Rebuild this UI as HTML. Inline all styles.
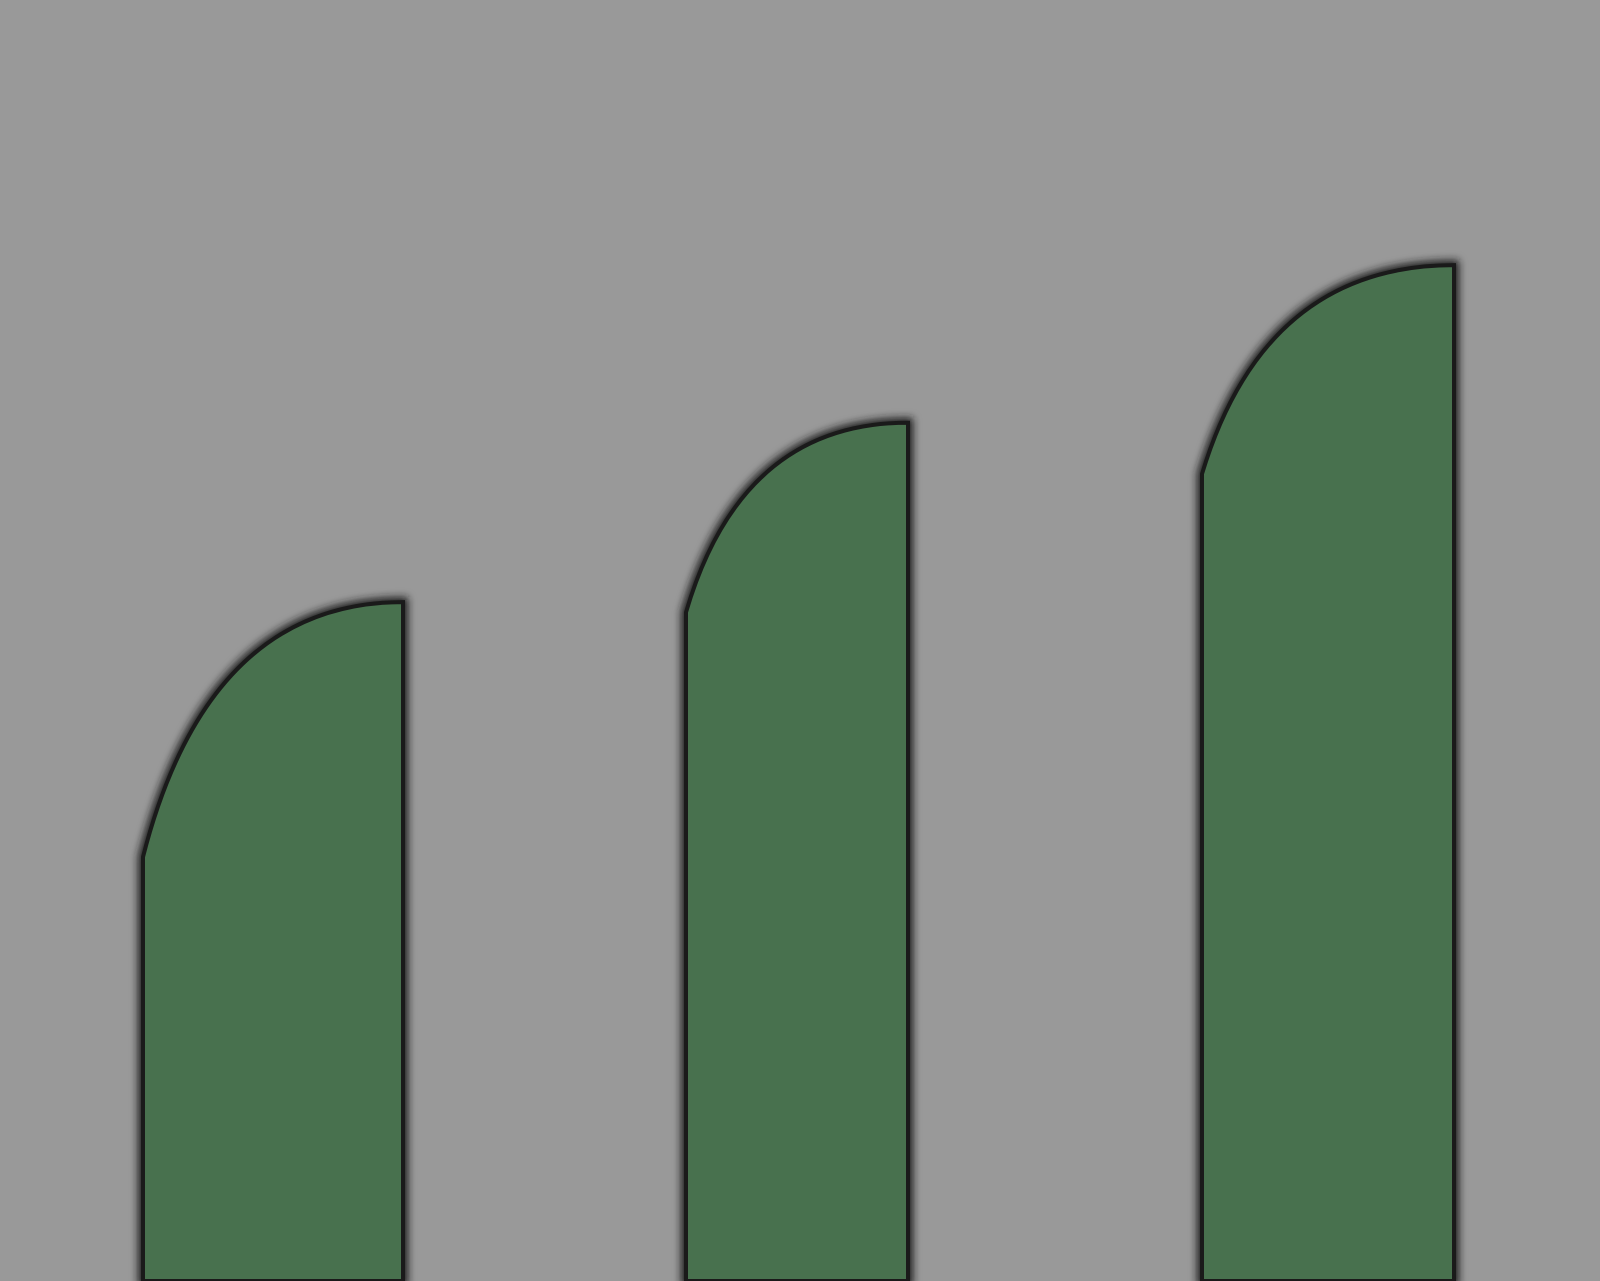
<!DOCTYPE html>
<html>
<head>
<meta charset="utf-8">
<style>
html,body{margin:0;padding:0;background:#999999;}
svg{display:block;}
</style>
</head>
<body>
<svg id="chart" width="1600" height="1281" viewBox="0 0 1600 1281" xmlns="http://www.w3.org/2000/svg">
<rect x="0" y="0" width="1600" height="1281" fill="#999999"/>
<defs>
<filter id="sh" x="-10%" y="-10%" width="120%" height="120%">
<feGaussianBlur stdDeviation="4"/>
</filter>
</defs>
<g id="bars"></g>
</svg>
<script>
const categories = ["bar-1", "bar-2", "bar-3"];
const topValues = [530, 670, 793];
const shoulderValues = [331, 522, 630];
const H = 1281;
function y(v){ return H - v * 1.281; }
const slots = [[143, 403], [686, 908], [1202, 1454]];
const g = document.getElementById('bars');
const NS = 'http://www.w3.org/2000/svg';
categories.forEach((c, i) => {
  const l = slots[i][0], r = slots[i][1], w = r - l;
  const yt = y(topValues[i]), ys = y(shoulderValues[i]);
  const d = `M${l},${H} L${l},${ys} Q${l + w*0.25},${yt} ${r},${yt} L${r},${H} Z`;
  const sh = document.createElementNS(NS, 'path');
  sh.setAttribute('d', d);
  sh.setAttribute('fill', 'none');
  sh.setAttribute('stroke', '#1e1e1e');
  sh.setAttribute('stroke-width', '10');
  sh.setAttribute('filter', 'url(#sh)');
  
  
  g.appendChild(sh);
  const p = document.createElementNS(NS, 'path');
  p.setAttribute('d', d);
  p.setAttribute('fill', '#48714e');
  p.setAttribute('stroke', '#1a1a1a');
  p.setAttribute('stroke-width', '4');
  
  
  g.appendChild(p);
});
</script>
</body>
</html>
